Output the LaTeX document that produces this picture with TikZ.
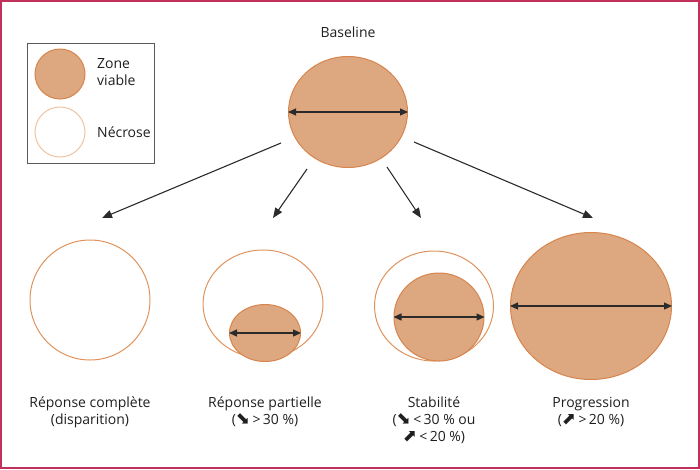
\documentclass[tikz,border=0pt]{standalone}
\usepackage{fontspec}
\setmainfont{Open Sans}
\newfontfamily\symfont{DejaVu Sans}
\usetikzlibrary{shapes.geometric,arrows.meta}
\definecolor{tumfill}{HTML}{DDA87F}
\definecolor{tumedge}{HTML}{D7844D}
\definecolor{necedge}{HTML}{DE935E}
\definecolor{neclight}{HTML}{EDC3A3}
\definecolor{framec}{HTML}{C1315B}
\definecolor{arrc}{HTML}{2B2B2B}
\definecolor{boxc}{HTML}{5A5A5A}
\newcommand{\dnarr}{{\symfont\fontsize{17}{17}\selectfont ⬊}}
\newcommand{\uparr}{{\symfont\fontsize{17}{17}\selectfont ⬈}}
\begin{document}
\begin{tikzpicture}[x=1pt,y=-1pt,
  viable/.style={ellipse, draw=tumedge, fill=tumfill, line width=1pt, inner sep=0pt},
  necro/.style={ellipse, draw=necedge, line width=1pt, inner sep=0pt},
  flow/.style={draw=arrc, line width=1.1pt, -{Triangle[length=10pt,width=8pt]}},
  diam/.style={draw=arrc, line width=1.2pt, {Triangle[length=8pt,width=7pt]}-{Triangle[length=8pt,width=7pt]}},
  lab/.style={font=\fontsize{14}{17}\selectfont, align=center, anchor=base, text=black!88, inner sep=0pt}]
\useasboundingbox (0,0) rectangle (700,469);
\draw[framec, line width=1.6pt] (0.8,0.8) rectangle (699.2,468.2);
% legend
\node[draw=boxc, line width=1pt, minimum width=127pt, minimum height=120pt, anchor=north west, inner sep=0pt] (legend) at (27,43) {};
\node[viable, minimum width=50pt, minimum height=50pt] (lv) at (60,74) {};
\node[necro, draw=neclight, minimum width=50pt, minimum height=50pt] (ln) at (60,132) {};
\node[lab, anchor=base west] (lvt) at (97,68) {Zone};
\node[lab, anchor=base west] (lvt2) at (97,85) {viable};
\node[lab, anchor=base west] (lnt) at (97,137) {Nécrose};
% baseline
\node[viable, minimum width=119pt, minimum height=111pt] (base) at (348,112) {};
\node[lab] (basetxt) at (348,37) {Baseline};
\draw[diam] (base.west) -- (base.east);
% outcomes
\node[necro, minimum width=120pt, minimum height=120pt] (cr) at (90,300) {};
\node[necro, minimum width=120pt, minimum height=108pt] (pr) at (263,304) {};
\node[viable, minimum width=71pt, minimum height=57pt] (pri) at (265,333) {};
\draw[diam] (pri.west) -- (pri.east);
\node[necro, minimum width=119pt, minimum height=110pt] (st) at (434,306) {};
\node[viable, minimum width=90pt, minimum height=88pt] (sti) at (439,317) {};
\draw[diam] (sti.west) -- (sti.east);
\node[viable, minimum width=161pt, minimum height=147pt] (pg) at (591,306) {};
\draw[diam] (pg.west) -- (pg.east);
% connectors
\coordinate (a1s) at (281,143); \coordinate (a1e) at (102,218);
\coordinate (a2s) at (307,169); \coordinate (a2e) at (273,218);
\coordinate (a3s) at (387,167); \coordinate (a3e) at (421,218);
\coordinate (a4s) at (414,142); \coordinate (a4e) at (593,218);
\draw[flow] (a1s) -- (a1e);
\draw[flow] (a2s) -- (a2e);
\draw[flow] (a3s) -- (a3e);
\draw[flow] (a4s) -- (a4e);
% labels
\node[lab] (l1a) at (90,407) {Réponse complète};
\node[lab] (l1b) at (90,424) {(disparition)};
\node[lab] (l2a) at (265,407) {Réponse partielle};
\node[lab] (l2b) at (265,424) {(\dnarr\,>\,30~\%)};
\node[lab] (l3a) at (434,407) {Stabilité};
\node[lab] (l3b) at (434,424) {(\dnarr\,<\,30~\% ou};
\node[lab] (l3c) at (434,441) {\uparr\,<\,20~\%)};
\node[lab] (l4a) at (591,407) {Progression};
\node[lab] (l4b) at (591,424) {(\uparr\,>\,20~\%)};
\end{tikzpicture}
\end{document}
